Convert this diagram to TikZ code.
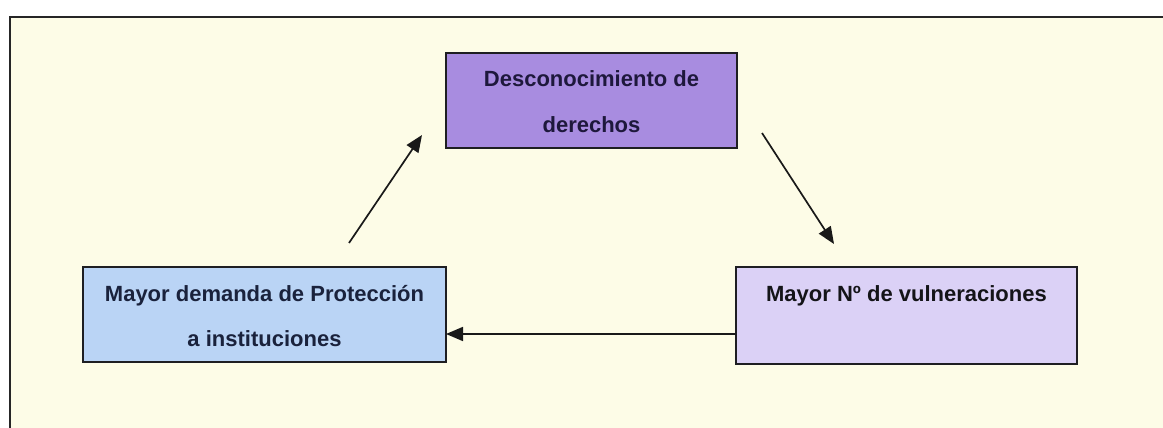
\documentclass[tikz,border=0pt]{standalone}
\usepackage{fontspec}
\setmainfont{Liberation Sans}
\usetikzlibrary{arrows.meta}
\definecolor{cream}{RGB}{253,252,231}
\definecolor{purpleA}{RGB}{168,140,224}
\definecolor{blueA}{RGB}{186,212,245}
\definecolor{lavA}{RGB}{219,209,246}
\definecolor{inkA}{RGB}{30,24,60}
\definecolor{inkB}{RGB}{26,34,60}
\definecolor{inkC}{RGB}{20,20,24}
\definecolor{edge}{RGB}{30,30,34}
\tikzset{
  box/.style={draw=edge, line width=1.8pt, rectangle, inner sep=0pt, outer sep=0pt},
  lbl/.style={anchor=base, inner sep=0pt, font=\fontsize{22}{26}\selectfont\bfseries},
  arr/.style={draw=black!90, line width=1.7pt, -{Triangle[length=17pt,width=14pt]}},
  frame/.style={draw=black!85, line width=1.6pt}
}
\begin{document}
\begin{tikzpicture}[x=1pt,y=-1pt]
\useasboundingbox (0,0) rectangle (1163,428);
\fill[white] (0,0) rectangle (1163,428);
\fill[cream] (10,17) rectangle (1163,428);
\draw[frame] (10,428) -- (10,17) -- (1163,17);

% boxes
\node[box, fill=purpleA, minimum width=291pt, minimum height=95pt] (top) at (591.5,100.5) {};
\node[box, fill=blueA, minimum width=363pt, minimum height=95pt] (lbox) at (264.5,314.5) {};
\node[box, fill=lavA, minimum width=341pt, minimum height=97pt] (rbox) at (906.5,315.5) {};

% texts
\node[lbl, text=inkA] (t1) at (591.5,87) {Desconocimiento de};
\node[lbl, text=inkA] (t2) at (591.5,132) {derechos};
\node[lbl, text=inkB] (l1) at (264.5,301) {Mayor demanda de Protección};
\node[lbl, text=inkB] (l2) at (264.5,346) {a instituciones};
\node[lbl, text=inkC] (r1) at (906.5,301) {Mayor Nº de vulneraciones};

% connectors
\coordinate (a1s) at (349,243);
\coordinate (a1e) at (422,135);
\coordinate (a2s) at (762,133);
\coordinate (a2e) at (834,244);
\coordinate (a3) at (0,334);
\draw[arr] (a1s) -- (a1e);
\draw[arr] (a2s) -- (a2e);
\draw[arr] (rbox.west |- a3) -- (lbox.east |- a3);
\end{tikzpicture}
\end{document}
